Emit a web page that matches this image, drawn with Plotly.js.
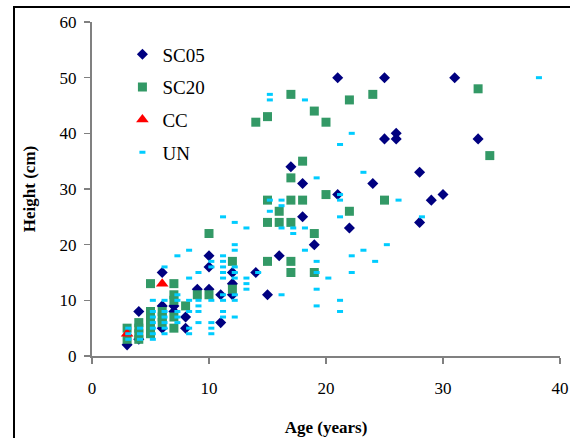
<!DOCTYPE html>
<html>
<head>
<meta charset="utf-8">
<script src="https://cdn.plot.ly/plotly-3.0.1.min.js"></script>
<style>html,body{margin:0;padding:0;background:#fff;}#chart{width:570px;height:438px;}</style>
</head>
<body>
<div id="chart"></div>
<script>
// ---- Data ----
const seriesNames = ["SC05", "SC20", "CC", "UN"];

const sc05Age    = [3, 4, 4, 6, 6, 6, 7, 7, 8, 8, 9, 10, 10, 10, 11, 11, 12, 12, 12, 14, 15, 16, 17, 18, 18, 19, 21, 21, 22, 24, 25, 25, 26, 26, 28, 28, 29, 30, 31, 33];
const sc05Height = [2, 3, 8, 15, 9, 5, 9, 8, 7, 5, 12, 18, 16, 12, 11, 6, 15, 13, 11, 15, 11, 18, 34, 31, 25, 20, 50, 29, 23, 31, 50, 39, 40, 39, 33, 24, 28, 29, 50, 39];

const sc20Age    = [3, 3, 4, 4, 4, 4, 5, 5, 5, 5, 5, 5, 6, 6, 6, 7, 7, 7, 7, 7, 8, 9, 10, 10, 12, 12, 14, 15, 15, 15, 15, 16, 16, 17, 17, 17, 17, 17, 17, 18, 18, 19, 19, 19, 20, 20, 22, 22, 24, 25, 33, 34];
const sc20Height = [5, 3, 6, 5, 4, 3, 13, 8, 7, 6, 5, 4, 8, 7, 6, 13, 11, 10, 7, 5, 9, 11, 22, 11, 17, 12, 42, 43, 28, 24, 17, 26, 24, 47, 32, 28, 24, 17, 15, 35, 28, 44, 22, 15, 42, 29, 46, 26, 47, 28, 48, 36];

const ccAge    = [3, 6];
const ccHeight = [4, 13];

const unAge = [3.1, 3.1, 3.1, 4.1, 4.1, 4.1,
  5.2, 5.2, 5.2, 5.2, 5.2, 5.2, 5.2,
  6.2, 6.2, 6.2, 6.2, 6.2, 6.2, 6.2,
  7.3, 7.3, 7.3, 7.3, 7.3, 7.3,
  8.3, 8.3, 8.3, 8.3, 8.3, 8.3,
  9.1, 9.1, 9.1, 9.1, 9.1,
  10.2, 10.2, 10.2, 10.2, 10.2, 10.2,
  11.2, 11.2, 11.2, 11.2, 11.2, 11.2, 11.2, 11.2, 11.2, 11.2,
  12.2, 12.2, 12.2, 12.2, 12.2, 12.2, 12.2, 12.2, 12.2,
  13.2, 13.2, 13.2, 13.2,
  14.2,
  15.2, 15.2, 15.2, 15.2,
  16.2, 16.2, 16.2, 16.2,
  17.2, 17.2,
  18.2, 18.2, 18.2,
  19.2, 19.2, 19.2, 19.2, 19.2,
  20.2,
  21.2, 21.2, 21.2, 21.2, 21.2, 21.2,
  22.2, 22.2, 22.2,
  23.2, 23.2,
  24.2, 25.2, 26.2, 28.2, 38.2];
const unHeight = [5, 4, 3, 5, 4, 3,
  10, 8, 7, 6, 5, 4, 3,
  16, 10, 8, 7, 6, 5, 4,
  18, 11, 10, 8, 7, 6,
  19, 14, 10, 8, 5, 4,
  15, 10, 9, 8, 6,
  17, 16, 10, 6, 5, 4,
  25, 18, 17, 16, 15, 14, 11, 10, 8, 7,
  24, 20, 19, 16, 15, 14, 11, 10, 7,
  23, 14, 13, 12,
  15,
  47, 46, 28, 26,
  28, 27, 23, 11,
  23, 22,
  46, 23, 19,
  32, 17, 15, 12, 9,
  14,
  38, 29, 28, 25, 10, 8,
  40, 18, 15,
  33, 19,
  17, 20, 28, 25, 50];

const xTicks = [0, 10, 20, 30, 40];
const yTicks = [0, 10, 20, 30, 40, 50, 60];
const xTitle = "Age (years)";
const yTitle = "Height (cm)";

// ---- Traces ----
const traces = [
  {x: sc05Age, y: sc05Height, name: seriesNames[0], legendgroup: "a", type: "scatter", mode: "markers",
   marker: {symbol: "diamond", size: 8.5, color: "#000080", line: {width: 0}}},
  {x: sc20Age, y: sc20Height, name: seriesNames[1], legendgroup: "b", type: "scatter", mode: "markers",
   marker: {symbol: "square", size: 9, color: "#339966", line: {width: 0}}},
  {x: ccAge, y: ccHeight, name: seriesNames[2], legendgroup: "c", type: "scatter", mode: "markers",
   marker: {symbol: "triangle-up", size: 11, color: "#ff0000", line: {width: 0}}},
  {x: unAge, y: unHeight, name: seriesNames[3], legendgroup: "d", type: "scatter", mode: "markers",
   marker: {symbol: "line-ew", size: 4.3, color: "#00ccff", line: {width: 3, color: "#00ccff"}}}
];

const serif = "Liberation Serif";

const layout = {
  width: 570, height: 438,
  margin: {l: 92, r: 10, t: 22, b: 82},
  paper_bgcolor: "#ffffff", plot_bgcolor: "#ffffff",
  font: {family: serif, color: "#000000", size: 16},
  showlegend: true,
  legend: {x: 0.065, y: 0.96, xanchor: "left", yanchor: "top",
           font: {family: serif, size: 19, color: "#000"},
           bgcolor: "rgba(0,0,0,0)", traceorder: "grouped", tracegroupgap: 5,
           itemwidth: 30},
  xaxis: {
    range: [0, 40], tickvals: xTicks, ticktext: xTicks.map(String),
    showgrid: false, zeroline: false, showline: true, linecolor: "#808080", linewidth: 2,
    ticks: "outside", ticklen: 6, tickwidth: 1.5, tickcolor: "#808080",
    tickfont: {family: serif, size: 17, color: "#000"}, ticklabelstandoff: 10,
    title: {text: "<b>" + xTitle + "</b>", font: {family: serif, size: 17, color: "#000"}, standoff: 24},
    fixedrange: true
  },
  yaxis: {
    range: [0, 60], tickvals: yTicks, ticktext: yTicks.map(String),
    showgrid: false, zeroline: false, showline: true, linecolor: "#808080", linewidth: 2,
    ticks: "outside", ticklen: 6, tickwidth: 1.5, tickcolor: "#808080",
    tickfont: {family: serif, size: 17, color: "#000"}, ticklabelstandoff: 4,
    title: {text: "<b>" + yTitle + "</b>", font: {family: serif, size: 17, color: "#000"}, standoff: 20},
    fixedrange: true
  },
  shapes: [{
    type: "rect", xref: "paper", yref: "paper",
    x0: (14 - 92) / 468, x1: (580 - 92) / 468,
    y0: (356 - 450) / 334, y1: (356 - 7) / 334,
    line: {color: "#000000", width: 2}, fillcolor: "rgba(0,0,0,0)", layer: "below"
  }]
};

Plotly.newPlot("chart", traces, layout, {displayModeBar: false, staticPlot: true});
</script>
</body>
</html>
